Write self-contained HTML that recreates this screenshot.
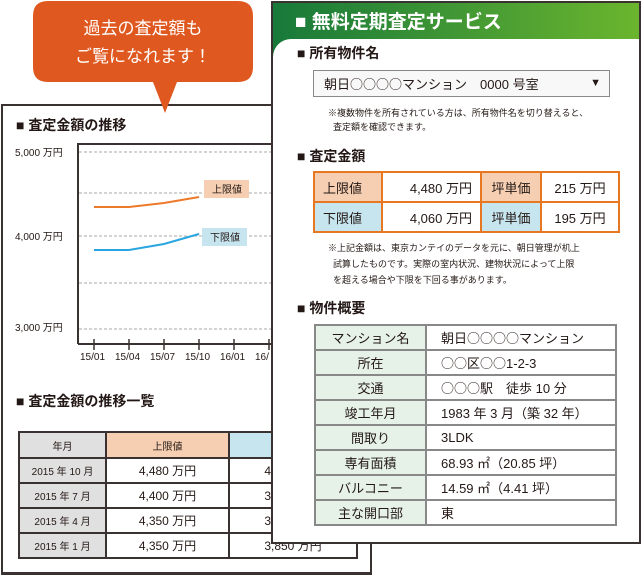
<!DOCTYPE html>
<html><head><meta charset="utf-8"><style>
*{margin:0;padding:0;box-sizing:border-box}
body{width:641px;height:576px;background:#fff;position:relative;overflow:hidden;font-family:"Liberation Sans","Noto Sans CJK JP",sans-serif;color:#231815}
.a{position:absolute;white-space:nowrap}
.h{font-weight:bold;font-size:14px}
.j{font-family:"Noto Sans CJK JP",sans-serif}
table{border-collapse:collapse;position:absolute}
</style></head><body>
<!-- back panel -->
<div class="a" style="left:1px;top:104px;width:371px;height:471px;border:2px solid #3a3230;border-bottom-width:3px"></div>
<div class="a h" style="left:16px;top:115px">■ 査定金額の推移</div>
<svg class="a" style="left:0;top:0" width="300" height="370">
<g font-size="10" fill="#231815" font-family="Liberation Sans,Noto Sans CJK JP,sans-serif">
<text x="15" y="156">5,000 万円</text><text x="15" y="240">4,000 万円</text><text x="15" y="331">3,000 万円</text>
<text x="80" y="360">15/01</text><text x="115" y="360">15/04</text><text x="150" y="360">15/07</text><text x="185" y="360">15/10</text><text x="220" y="360">16/01</text><text x="255" y="360">16/</text></g>
<g stroke="#aaa" stroke-dasharray="3,2" stroke-width="1"><line x1="79" y1="152" x2="280" y2="152"/><line x1="79" y1="193" x2="280" y2="193"/><line x1="79" y1="236" x2="280" y2="236"/><line x1="79" y1="283" x2="280" y2="283"/><line x1="79" y1="329" x2="280" y2="329"/></g>
<path d="M78 344 V144 H280 M78 344 H280" fill="none" stroke="#3a3230" stroke-width="2"/>
<g stroke="#3a3230" stroke-width="1.5"><line x1="94" y1="339" x2="94" y2="350"/><line x1="129" y1="339" x2="129" y2="350"/><line x1="164" y1="339" x2="164" y2="350"/><line x1="199" y1="339" x2="199" y2="350"/><line x1="234" y1="339" x2="234" y2="350"/><line x1="269" y1="339" x2="269" y2="350"/></g>
<polyline points="94,207 129,207 164,203 199,197" fill="none" stroke="#ec7a2a" stroke-width="2"/>
<polyline points="94,250 129,250 164,244 199,234" fill="none" stroke="#29a6e0" stroke-width="2"/>
<rect x="204" y="180" width="45" height="18" fill="#f6cfb2"/><rect x="202" y="228" width="45" height="18" fill="#c7e5ef"/>
<g font-size="10" fill="#231815" font-family="Liberation Sans,Noto Sans CJK JP,sans-serif"><text x="212" y="193">上限値</text><text x="210" y="241">下限値</text></g>
<path d="M50 1 H238 Q253 1 253 16 V67 Q253 82 238 82 H177 L165 113 L153 82 H48 Q33 82 33 67 V16 Q33 1 48 1Z" fill="#df581f"/>
<g font-size="17" fill="#fff" font-family="Liberation Sans,Noto Sans CJK JP,sans-serif" text-anchor="middle"><text x="143" y="34">過去の査定額も</text><text x="143" y="62">ご覧になれます！</text></g>
</svg>
<div class="a h" style="left:16px;top:391px">■ 査定金額の推移一覧</div>
<table style="left:18px;top:431px;font-size:12px;text-align:center;width:340px">
<tr style="height:26px"><td style="border:2px solid #3a3230;background:#e0e0e0;width:87px;font-size:10px">年月</td><td style="border:2px solid #3a3230;background:#f6cfb2;width:123px;font-size:10px">上限値</td><td style="border:2px solid #3a3230;background:#c7e5ef"></td></tr>
<tr style="height:25px"><td style="border:2px solid #3a3230;background:#e0e0e0;font-size:10px">2015 年 10 月</td><td style="border:2px solid #3a3230">4,480 万円</td><td style="border:2px solid #3a3230">4,060 万円</td></tr>
<tr style="height:25px"><td style="border:2px solid #3a3230;background:#e0e0e0;font-size:10px">2015 年 7 月</td><td style="border:2px solid #3a3230">4,400 万円</td><td style="border:2px solid #3a3230">3,950 万円</td></tr>
<tr style="height:25px"><td style="border:2px solid #3a3230;background:#e0e0e0;font-size:10px">2015 年 4 月</td><td style="border:2px solid #3a3230">4,350 万円</td><td style="border:2px solid #3a3230">3,850 万円</td></tr>
<tr style="height:25px"><td style="border:2px solid #3a3230;background:#e0e0e0;font-size:10px">2015 年 1 月</td><td style="border:2px solid #3a3230">4,350 万円</td><td style="border:2px solid #3a3230">3,850 万円</td></tr>
</table>
<!-- front panel -->
<div class="a" style="left:271px;top:1px;width:370px;height:543px;border:2px solid #3a3230;background:linear-gradient(90deg,#17793a,#6bb52e);overflow:hidden">
<div class="a" style="left:0;top:36px;width:370px;height:510px;background:#fff;border-top-left-radius:18px"></div>
<div class="a" style="left:22px;top:4px;color:#fff;font-weight:bold;font-size:19px">■ 無料定期査定サービス</div>
</div>
<div class="a h" style="left:297px;top:43px">■ 所有物件名</div>
<div class="a" style="left:313px;top:70px;width:297px;height:27px;border:1px solid #888;background:#f8f8f8;font-size:13px;line-height:25px;padding-left:10px">朝日<span class="j">○○○○</span>マンション　0000 号室<span style="position:absolute;right:8px;font-size:11px">▼</span></div>
<div class="a" style="left:328px;top:106px;font-size:9px;line-height:14px">※複数物件を所有されている方は、所有物件名を切り替えると、<br>&nbsp;&nbsp;査定額を確認できます。</div>
<div class="a h" style="left:297px;top:146px">■ 査定金額</div>
<table style="left:313px;top:171px;font-size:13px;border:2px solid #e87722">
<tr style="height:30px"><td style="border:2px solid #e87722;background:#f6cfb2;width:68px;padding-left:8px">上限値</td><td style="border:2px solid #e87722;width:99px;text-align:right;padding-right:8px">4,480 万円</td><td style="border:2px solid #e87722;background:#f6cfb2;width:60px;text-align:center">坪単価</td><td style="border:2px solid #e87722;width:78px;text-align:center">215 万円</td></tr>
<tr style="height:30px"><td style="border:2px solid #e87722;background:#c7e5ef;padding-left:8px">下限値</td><td style="border:2px solid #e87722;text-align:right;padding-right:8px">4,060 万円</td><td style="border:2px solid #e87722;background:#c7e5ef;text-align:center">坪単価</td><td style="border:2px solid #e87722;text-align:center">195 万円</td></tr>
</table>
<div class="a" style="left:328px;top:240px;font-size:9px;line-height:16px">※上記金額は、東京カンテイのデータを元に、朝日管理が机上<br>&nbsp;&nbsp;試算したものです。実際の室内状況、建物状況によって上限<br>&nbsp;&nbsp;を超える場合や下限を下回る事があります。</div>
<div class="a h" style="left:297px;top:298px">■ 物件概要</div>
<table style="left:314px;top:324px;width:303px;font-size:13px;border:2px solid #888">
<tr style="height:25px"><td style="border:2px solid #888;background:#e6f2e8;width:111px;text-align:center">マンション名</td><td style="border:2px solid #888;padding-left:14px">朝日<span class="j">○○○○</span>マンション</td></tr>
<tr style="height:25px"><td style="border:2px solid #888;background:#e6f2e8;text-align:center">所在</td><td style="border:2px solid #888;padding-left:14px"><span class="j">○○</span>区<span class="j">○○</span>1-2-3</td></tr>
<tr style="height:25px"><td style="border:2px solid #888;background:#e6f2e8;text-align:center">交通</td><td style="border:2px solid #888;padding-left:14px"><span class="j">○○○</span>駅　徒歩 10 分</td></tr>
<tr style="height:25px"><td style="border:2px solid #888;background:#e6f2e8;text-align:center">竣工年月</td><td style="border:2px solid #888;padding-left:14px">1983 年 3 月（築 32 年）</td></tr>
<tr style="height:25px"><td style="border:2px solid #888;background:#e6f2e8;text-align:center">間取り</td><td style="border:2px solid #888;padding-left:14px">3LDK</td></tr>
<tr style="height:25px"><td style="border:2px solid #888;background:#e6f2e8;text-align:center">専有面積</td><td style="border:2px solid #888;padding-left:14px">68.93 ㎡（20.85 坪）</td></tr>
<tr style="height:25px"><td style="border:2px solid #888;background:#e6f2e8;text-align:center">バルコニー</td><td style="border:2px solid #888;padding-left:14px">14.59 ㎡（4.41 坪）</td></tr>
<tr style="height:25px"><td style="border:2px solid #888;background:#e6f2e8;text-align:center">主な開口部</td><td style="border:2px solid #888;padding-left:14px">東</td></tr>
</table>
</body></html>
